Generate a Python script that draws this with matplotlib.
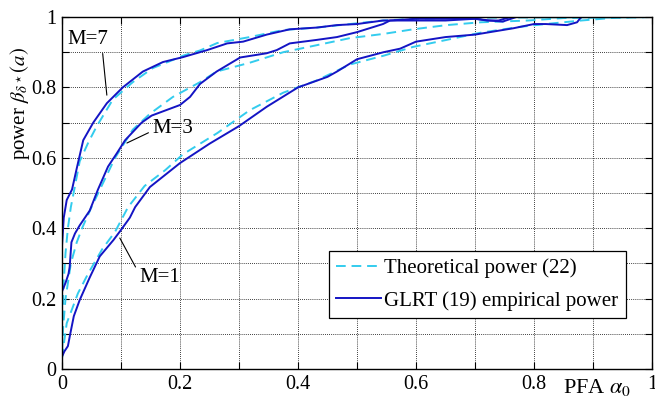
import numpy as np
import matplotlib
matplotlib.use("Agg")
import matplotlib.pyplot as plt
from matplotlib.ticker import MultipleLocator

plt.rcParams['font.family'] = ['Liberation Serif', 'DejaVu Serif']
plt.rcParams['mathtext.fontset'] = 'stix'

# ---- data ----
x_emp1 = [0, 0.004, 0.01, 0.014, 0.02, 0.03, 0.047, 0.064, 0.087, 0.10, 0.115, 0.124, 0.149, 0.2, 0.25,
          0.30, 0.347, 0.40, 0.45, 0.466, 0.5, 0.545, 0.573, 0.60, 0.65, 0.70, 0.765, 0.80, 0.82, 0.856,
          0.873, 0.88, 1.0]
y_emp1 = [0.035, 0.05, 0.065, 0.10, 0.15, 0.196, 0.26, 0.32, 0.366, 0.395, 0.43, 0.46, 0.517, 0.585, 0.64,
          0.69, 0.745, 0.80, 0.83, 0.845, 0.88, 0.90, 0.91, 0.93, 0.943, 0.95, 0.968, 0.98, 0.98, 0.977,
          0.985, 1.0, 1.0]

x_th1 = [0, 0.003, 0.008, 0.017, 0.027, 0.044, 0.068, 0.09, 0.112, 0.14, 0.175, 0.205, 0.263, 0.318,
         0.375, 0.432, 0.488, 0.545, 0.595, 0.652, 0.708, 0.776, 0.82, 0.88, 0.93, 1.0]
y_th1 = [0.03, 0.07, 0.13, 0.17, 0.215, 0.27, 0.34, 0.39, 0.46, 0.52, 0.565, 0.61, 0.67, 0.735,
         0.785, 0.82, 0.865, 0.89, 0.915, 0.935, 0.955, 0.972, 0.98, 0.99, 0.997, 1.0]

x_emp3 = [0, 0.006, 0.011, 0.013, 0.016, 0.022, 0.03, 0.047, 0.061, 0.078, 0.093, 0.107, 0.135, 0.152,
          0.2, 0.217, 0.234, 0.262, 0.302, 0.347, 0.364, 0.386, 0.432, 0.466, 0.5, 0.544, 0.556, 0.6,
          0.7, 0.725, 0.747, 0.77, 1.0]
y_emp3 = [0.22, 0.245, 0.27, 0.29, 0.36, 0.385, 0.408, 0.45, 0.51, 0.575, 0.613, 0.65, 0.70, 0.72,
          0.75, 0.773, 0.81, 0.845, 0.885, 0.897, 0.906, 0.925, 0.935, 0.943, 0.957, 0.98, 0.99, 0.995,
          0.995, 0.99, 0.987, 1.0, 1.0]

x_th3 = [0, 0.002, 0.006, 0.015, 0.025, 0.034, 0.05, 0.07, 0.09, 0.12, 0.149, 0.188, 0.234, 0.262,
         0.318, 0.375, 0.432, 0.488, 0.545, 0.595, 0.652, 0.71, 0.79, 0.85, 1.0]
y_th3 = [0.05, 0.12, 0.2, 0.3, 0.36, 0.40, 0.46, 0.53, 0.60, 0.68, 0.725, 0.773, 0.815, 0.845,
         0.87, 0.90, 0.92, 0.94, 0.952, 0.965, 0.977, 0.985, 0.99, 0.997, 1.0]

x_emp7 = [0, 0.003, 0.008, 0.017, 0.025, 0.036, 0.053, 0.076, 0.103, 0.137, 0.171, 0.205, 0.246, 0.28,
          0.307, 0.347, 0.386, 0.432, 0.466, 0.5, 0.544, 0.6, 0.65, 0.7, 0.72, 0.74, 0.76, 1.0]
y_emp7 = [0.35, 0.43, 0.48, 0.51, 0.57, 0.65, 0.70, 0.755, 0.80, 0.845, 0.872, 0.886, 0.906, 0.925,
          0.93, 0.95, 0.965, 0.97, 0.977, 0.98, 0.99, 0.99, 0.99, 0.995, 0.99, 0.99, 1.0, 1.0]

x_th7 = [0, 0.001, 0.003, 0.006, 0.01, 0.015, 0.022, 0.03, 0.045, 0.059, 0.086, 0.12, 0.154, 0.188,
         0.205, 0.234, 0.263, 0.318, 0.375, 0.432, 0.488, 0.544, 0.6, 0.7, 1.0]
y_th7 = [0.05, 0.15, 0.25, 0.33, 0.40, 0.46, 0.52, 0.59, 0.645, 0.69, 0.765, 0.815, 0.855, 0.878,
         0.89, 0.905, 0.926, 0.943, 0.963, 0.97, 0.98, 0.99, 0.995, 0.998, 1.0]

tick_vals = [0, 0.2, 0.4, 0.6, 0.8, 1]
tick_labels = ['0', '0.2', '0.4', '0.6', '0.8', '1']

annot_labels = ['M=7', 'M=3', 'M=1']
annot_points = [(0.076, 0.778), (0.11, 0.642), (0.098, 0.372)]
annot_text_pos = [(0.044, 0.935), (0.188, 0.682), (0.165, 0.261)]
annot_relpos = [(0.85, 0.0), (0.0, 0.4), (0.0, 0.7)]

legend_labels = ['Theoretical power (22)', 'GLRT (19) empirical power']

c_th = '#33CCEE'
c_emp = '#1414C4'

fig = plt.figure(figsize=(6.55, 3.98), dpi=100)
ax = fig.add_axes([62/655, 1-369/398, 590/655, 352/398])

dash = (5, 3)
lth, = ax.plot(x_th1, y_th1, color=c_th, lw=1.4, dashes=dash)
ax.plot(x_th3, y_th3, color=c_th, lw=1.4, dashes=dash)
ax.plot(x_th7, y_th7, color=c_th, lw=1.4, dashes=dash)
lemp, = ax.plot(x_emp1, y_emp1, color=c_emp, lw=1.4)
ax.plot(x_emp3, y_emp3, color=c_emp, lw=1.4)
ax.plot(x_emp7, y_emp7, color=c_emp, lw=1.4)

ax.set_xlim(0, 1)
ax.set_ylim(0, 1)
ax.set_xticks(tick_vals)
ax.set_xticklabels(tick_labels)
ax.set_yticks(tick_vals)
ax.set_yticklabels(tick_labels)
ax.xaxis.set_minor_locator(MultipleLocator(0.1))
ax.yaxis.set_minor_locator(MultipleLocator(0.1))
ax.tick_params(which='both', direction='in', top=True, right=True, length=5, width=0.8)
ax.tick_params(axis='both', labelsize=14.5)
ax.tick_params(axis='x', pad=4)
ax.tick_params(axis='y', pad=4)
ax.grid(True, which='both', color='black', linestyle=(0, (1, 1.5)), linewidth=0.6)
for s in ax.spines.values():
    s.set_linewidth(1.0)
    s.set_color('black')

for lab, pt, tp, rp in zip(annot_labels, annot_points, annot_text_pos, annot_relpos):
    ax.annotate(lab, xy=pt, xytext=tp, fontsize=15, ha='center', va='center',
                arrowprops=dict(arrowstyle='-', color='black', lw=0.8, shrinkA=1, shrinkB=0,
                                relpos=rp))

ax.text(-0.071, 0.755, r'power $\beta_{\delta^\star}(a)$', transform=ax.transAxes,
        rotation=90, ha='center', va='center', fontsize=15)
ax.text(0.907, -0.052, r'PFA $\alpha_0$', transform=ax.transAxes,
        ha='center', va='center', fontsize=16)

leg = ax.legend([lth, lemp], legend_labels, loc='lower left', bbox_to_anchor=(0.4525, 0.145),
                borderaxespad=0, fontsize=15, fancybox=False, framealpha=1, edgecolor='black',
                handlelength=2.16, handletextpad=0.15, labelspacing=0.62, borderpad=0.35)
leg.get_frame().set_linewidth(0.9)

fig.savefig('out.png', dpi=100)
